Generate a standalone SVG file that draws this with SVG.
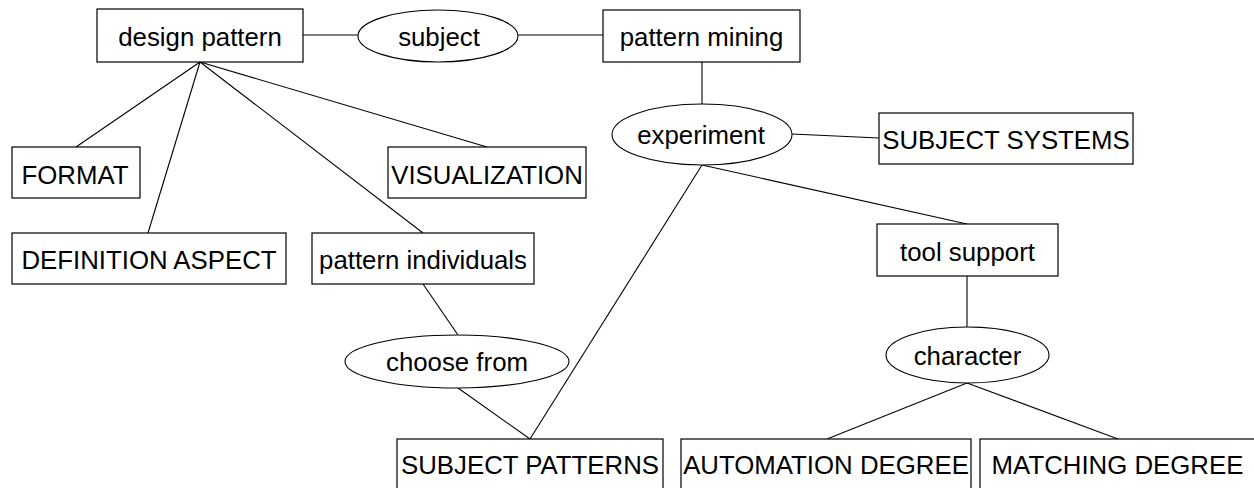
<svg xmlns="http://www.w3.org/2000/svg" width="1254" height="488" viewBox="0 0 1254 488">
  <style>
    .box { fill: #fff; stroke: #000; stroke-width: 1.2; }
    .rel { fill: #fff; stroke: #000; stroke-width: 1.1; }
    .edge { stroke: #000; stroke-width: 1.1; fill: none; }
    text { font-family: "Liberation Sans", Arial, sans-serif; font-size: 25.8px; fill: #000; text-anchor: middle; }
  </style>
  <rect width="1254" height="488" fill="#fff"/>

  <g id="connectors">
    <line class="edge" x1="303" y1="35" x2="358" y2="35"/>
    <line class="edge" x1="518" y1="35" x2="603" y2="35"/>
    <line class="edge" x1="702" y1="62" x2="702" y2="104"/>
    <line class="edge" x1="200" y1="62" x2="76" y2="147"/>
    <line class="edge" x1="200" y1="62" x2="148" y2="233"/>
    <line class="edge" x1="200" y1="62" x2="487" y2="147"/>
    <line class="edge" x1="200" y1="62" x2="423" y2="233"/>
    <line class="edge" x1="423" y1="284" x2="458" y2="335"/>
    <line class="edge" x1="458" y1="388" x2="530" y2="439"/>
    <line class="edge" x1="702" y1="165" x2="530" y2="439"/>
    <line class="edge" x1="792" y1="134" x2="879" y2="138"/>
    <line class="edge" x1="702" y1="165" x2="967" y2="224"/>
    <line class="edge" x1="967" y1="276" x2="967" y2="327"/>
    <line class="edge" x1="967" y1="383" x2="827" y2="439"/>
    <line class="edge" x1="967" y1="383" x2="1118" y2="439"/>
  </g>

  <g id="design-pattern">
    <rect class="box" x="97" y="9" width="206" height="53"/>
    <text x="200" y="45.5">design pattern</text>
  </g>
  <g id="subject">
    <ellipse class="rel" cx="438" cy="36" rx="80" ry="26"/>
    <text x="439" y="45.5">subject</text>
  </g>
  <g id="pattern-mining">
    <rect class="box" x="603" y="10" width="197" height="52"/>
    <text x="701.5" y="45.5">pattern mining</text>
  </g>
  <g id="experiment">
    <ellipse class="rel" cx="702" cy="134.5" rx="90" ry="30.5"/>
    <text x="701" y="143.5">experiment</text>
  </g>
  <g id="subject-systems">
    <rect class="box" x="879" y="113" width="254" height="51"/>
    <text x="1006" y="148.5">SUBJECT SYSTEMS</text>
  </g>
  <g id="format">
    <rect class="box" x="12" y="147" width="128" height="51"/>
    <text x="75" y="183.5">FORMAT</text>
  </g>
  <g id="visualization">
    <rect class="box" x="388" y="147" width="198" height="51"/>
    <text x="487" y="183.5">VISUALIZATION</text>
  </g>
  <g id="definition-aspect">
    <rect class="box" x="12" y="233" width="274" height="51"/>
    <text x="149" y="268.5">DEFINITION ASPECT</text>
  </g>
  <g id="pattern-individuals">
    <rect class="box" x="312" y="233" width="222" height="51"/>
    <text x="423" y="268.5">pattern individuals</text>
  </g>
  <g id="tool-support">
    <rect class="box" x="877" y="224" width="181" height="52"/>
    <text x="967.5" y="260.5">tool support</text>
  </g>
  <g id="choose-from">
    <ellipse class="rel" cx="457" cy="361.5" rx="112" ry="26.5"/>
    <text x="457" y="370.5">choose from</text>
  </g>
  <g id="character">
    <ellipse class="rel" cx="967.5" cy="355" rx="81.5" ry="28"/>
    <text x="967.5" y="364.5">character</text>
  </g>
  <g id="subject-patterns">
    <rect class="box" x="397" y="439" width="266" height="60"/>
    <text x="530" y="473.5">SUBJECT PATTERNS</text>
  </g>
  <g id="automation-degree">
    <rect class="box" x="681" y="439" width="290" height="60"/>
    <text x="826" y="473.5">AUTOMATION DEGREE</text>
  </g>
  <g id="matching-degree">
    <rect class="box" x="980" y="439" width="280" height="60"/>
    <text x="1117.5" y="473.5">MATCHING DEGREE</text>
  </g>
</svg>
